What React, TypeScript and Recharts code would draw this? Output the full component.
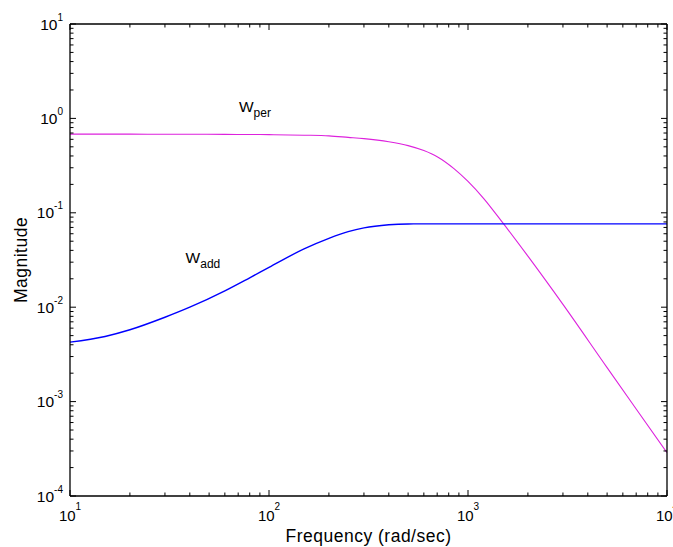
import React from "react";
import { LineChart, Line, XAxis, YAxis, ReferenceDot, Label } from "recharts";

// Frequency grid (rad/sec)
const FREQ = [10, 15, 20, 30, 40, 60, 80, 100, 150, 200, 250, 300, 400, 500, 600, 700, 850, 1000, 1200, 1500, 2000, 3000, 5000, 7000, 10000];
// W_per magnitude
const W_PER = [0.682, 0.682, 0.681, 0.68, 0.679, 0.677, 0.675, 0.673, 0.664, 0.653, 0.63, 0.611, 0.566, 0.515, 0.456, 0.393, 0.294, 0.215, 0.1416, 0.0776, 0.0347, 0.0107, 0.00229, 0.000836, 0.000288];
// W_add magnitude
const W_ADD = [0.00426, 0.0049, 0.00577, 0.00783, 0.01, 0.0149, 0.0205, 0.0264, 0.0415, 0.0537, 0.0631, 0.0692, 0.0746, 0.0762, 0.0764, 0.0764, 0.0764, 0.0764, 0.0764, 0.0764, 0.0764, 0.0764, 0.0764, 0.0764, 0.0764];

// Axis decades
const X_DECADES = [10, 100, 1000, 10000];
const Y_DECADES = [0.0001, 0.001, 0.01, 0.1, 1, 10];

// Annotation anchors (data coordinates)
const LABEL_PER = { freq: 70.6, mag: 1.17, main: "W", sub: "per" };
const LABEL_ADD = { freq: 38.1, mag: 0.0293, main: "W", sub: "add" };

const withMinors = (decades: number[]) => {
  const out: number[] = [];
  decades.forEach((d, i) => {
    if (i === decades.length - 1) {
      out.push(d);
    } else {
      for (let m = 1; m <= 9; m++) out.push(+(m * d).toPrecision(6));
    }
  });
  return out;
};
const X_TICKS = withMinors(X_DECADES);
const Y_TICKS = withMinors(Y_DECADES);

const rows = FREQ.map((f, i) => ({ freq: f, wper: W_PER[i], wadd: W_ADD[i] }));

const FONT = "'Liberation Sans', Arial, Helvetica, sans-serif";

const isDecade = (v: number) => {
  const l = Math.log10(v);
  return Math.abs(l - Math.round(l)) < 1e-6;
};
const expOf = (v: number) => String(Math.round(Math.log10(v)));

const BottomTick = (props: any) => {
  const { x, y, payload } = props;
  const v = payload.value;
  const major = isDecade(v);
  return (
    <g>
      <line x1={x} y1={y} x2={x} y2={y - (major ? 6 : 3.5)} stroke="#000" strokeWidth={1} />
      {major && (
        <text x={x} y={y + 25} textAnchor="middle" fontFamily={FONT} fontSize={15} fill="#000">
          10
          <tspan dy={-11} fontSize={10}>{expOf(v)}</tspan>
        </text>
      )}
    </g>
  );
};

const TopTick = (props: any) => {
  const { x, y, payload } = props;
  const major = isDecade(payload.value);
  return <line x1={x} y1={y} x2={x} y2={y + (major ? 6 : 3.5)} stroke="#000" strokeWidth={1} />;
};

const LeftTick = (props: any) => {
  const { x, y, payload } = props;
  const v = payload.value;
  const major = isDecade(v);
  return (
    <g>
      <line x1={x} y1={y} x2={x + (major ? 6 : 3.5)} y2={y} stroke="#000" strokeWidth={1} />
      {major && (
        <text x={x - 7} y={y + 5.5} textAnchor="end" fontFamily={FONT} fontSize={15.5} fill="#000">
          10
          <tspan dy={-9} fontSize={10}>{expOf(v)}</tspan>
        </text>
      )}
    </g>
  );
};

const RightTick = (props: any) => {
  const { x, y, payload } = props;
  const major = isDecade(payload.value);
  return <line x1={x} y1={y} x2={x - (major ? 6 : 3.5)} y2={y} stroke="#000" strokeWidth={1} />;
};

const makeAnnot = (main: string, sub: string) => (p: any) => (
  <text x={p.cx} y={p.cy} fontFamily={FONT} fontSize={15.5} fill="#000">
    {main}
    <tspan dy={5} fontSize={12}>{sub}</tspan>
  </text>
);

export default function App() {
  return (
    <div style={{ position: "absolute", left: 0, top: 0, width: 673, height: 547, background: "#fff" }}>
      <LineChart width={673} height={547} data={rows} margin={{ top: 23, right: 5, left: 0, bottom: 0 }}>
        <XAxis
          dataKey="freq"
          type="number"
          scale="log"
          domain={[10, 10000]}
          allowDataOverflow
          ticks={X_TICKS}
          interval={0}
          height={51}
          tickSize={0}
          tickMargin={0}
          tick={<BottomTick />}
          axisLine={{ stroke: "#000", strokeWidth: 1.3 }}
          tickLine={false}
        >
          <Label
            content={(p: any) => {
              const vb = p.viewBox;
              return (
                <text x={vb.x + vb.width / 2} y={vb.y + 46} textAnchor="middle" fontFamily={FONT} fontSize={17.5} letterSpacing={0.5} fill="#000">
                  Frequency (rad/sec)
                </text>
              );
            }}
          />
        </XAxis>
        <XAxis
          xAxisId="top"
          orientation="top"
          dataKey="freq"
          type="number"
          scale="log"
          domain={[10, 10000]}
          allowDataOverflow
          ticks={X_TICKS}
          interval={0}
          height={1}
          tickSize={0}
          tickMargin={0}
          tick={<TopTick />}
          axisLine={{ stroke: "#000", strokeWidth: 1.3 }}
          tickLine={false}
        />
        <YAxis
          type="number"
          scale="log"
          domain={[0.0001, 10]}
          allowDataOverflow
          ticks={Y_TICKS}
          interval={0}
          width={70}
          tickSize={0}
          tickMargin={0}
          tick={<LeftTick />}
          axisLine={{ stroke: "#000", strokeWidth: 1.3 }}
          tickLine={false}
        >
          <Label
            content={(p: any) => {
              const vb = p.viewBox;
              const cx = 27;
              const cy = vb.y + vb.height / 2;
              return (
                <text x={cx} y={cy} transform={`rotate(-90 ${cx} ${cy})`} textAnchor="middle" fontFamily={FONT} fontSize={17.5} letterSpacing={0.5} fill="#000">
                  Magnitude
                </text>
              );
            }}
          />
        </YAxis>
        <YAxis
          yAxisId="right"
          orientation="right"
          type="number"
          scale="log"
          domain={[0.0001, 10]}
          allowDataOverflow
          ticks={Y_TICKS}
          interval={0}
          width={1}
          tickSize={0}
          tickMargin={0}
          tick={<RightTick />}
          axisLine={{ stroke: "#000", strokeWidth: 1.3 }}
          tickLine={false}
        />
        <Line xAxisId="top" yAxisId="right" dataKey="wadd" type="monotone" stroke="none" strokeOpacity={0} dot={false} activeDot={false} legendType="none" isAnimationActive={false} />
        <Line dataKey="wper" type="monotone" stroke="#dd22dd" strokeWidth={1.1} dot={false} isAnimationActive={false} />
        <Line dataKey="wadd" type="monotone" stroke="#0000ff" strokeWidth={1.4} dot={false} isAnimationActive={false} />
        <ReferenceDot x={LABEL_PER.freq} y={LABEL_PER.mag} r={0} shape={makeAnnot(LABEL_PER.main, LABEL_PER.sub)} />
        <ReferenceDot x={LABEL_ADD.freq} y={LABEL_ADD.mag} r={0} shape={makeAnnot(LABEL_ADD.main, LABEL_ADD.sub)} />
      </LineChart>
    </div>
  );
}
